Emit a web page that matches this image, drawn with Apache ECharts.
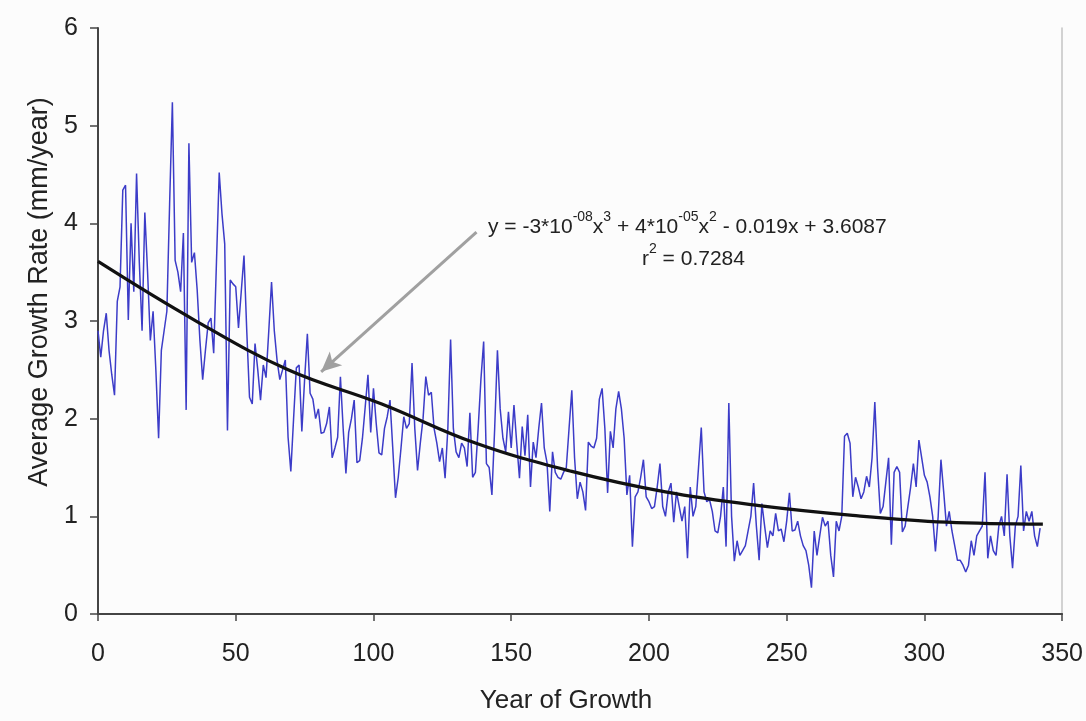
<!DOCTYPE html>
<html lang="en">
	<head>
		<meta charset="UTF-8">
		<title>Average Growth Rate</title>
		<script src="https://cdn.jsdelivr.net/npm/echarts@6/dist/echarts.min.js"></script>
		<style>
			html, body { margin: 0; padding: 0; background: #fcfcfc; }
			#growthChart { width: 1086px; height: 721px; }
		</style>
	</head>
	<body>
		<div id="growthChart"></div>

		<script>
			// 연도별 평균 성장률 (index = year of growth)
			const growthRate = [
				2.9, 2.63, 2.9, 3.08, 2.7, 2.45, 2.24, 3.2, 3.35, 4.34,
				4.39, 3.01, 4.0, 3.3, 4.51, 3.6, 2.9, 4.11, 3.5, 2.8,
				3.1, 2.5, 1.8, 2.7, 2.9, 3.1, 4.2, 5.24, 3.62, 3.5,
				3.3, 3.9, 2.09, 4.82, 3.6, 3.7, 3.32, 2.8, 2.4, 2.7,
				2.98, 3.03, 2.67, 3.6, 4.52, 4.1, 3.79, 1.88, 3.42, 3.38,
				3.35, 2.93, 3.3, 3.67, 2.9, 2.22, 2.15, 2.77, 2.5, 2.19,
				2.55, 2.42, 2.9, 3.4, 2.9, 2.6, 2.4, 2.5, 2.6, 1.81,
				1.46, 2.0, 2.52, 2.55, 1.87, 2.4, 2.87, 2.26, 2.2, 2.0,
				2.1, 1.85, 1.86, 1.95, 2.12, 1.6, 1.7, 1.81, 2.43, 1.9,
				1.44, 1.86, 2.0, 2.19, 1.55, 1.57, 1.8, 2.12, 2.45, 1.86,
				2.31, 1.95, 1.65, 1.63, 1.9, 2.02, 2.19, 1.7, 1.19, 1.4,
				1.7, 2.02, 1.9, 1.95, 2.57, 1.9, 1.47, 1.75, 2.0, 2.43,
				2.24, 2.27, 1.9, 1.75, 1.56, 1.7, 1.39, 1.9, 2.81, 1.9,
				1.66, 1.6, 1.75, 1.7, 1.51, 2.06, 1.4, 1.45, 1.9, 2.4,
				2.79, 1.54, 1.5, 1.22, 1.9, 2.7, 2.1, 1.8, 1.66, 2.07,
				1.7, 2.14, 1.75, 1.39, 1.92, 1.62, 2.04, 1.3, 1.76, 1.6,
				1.9, 2.16, 1.7, 1.55, 1.05, 1.66, 1.45, 1.4, 1.38, 1.45,
				1.5, 1.9, 2.29, 1.6, 1.18, 1.35, 1.25, 1.06, 1.76, 1.72,
				1.7, 1.8, 2.2, 2.31, 1.9, 1.24, 1.87, 1.7, 2.1, 2.28,
				2.1, 1.8, 1.22, 1.42, 0.69, 1.2, 1.25, 1.4, 1.58, 1.2,
				1.15, 1.08, 1.1, 1.3, 1.54, 1.1, 1.0, 1.25, 1.34, 0.94,
				1.25, 1.1, 0.95, 1.1, 0.57, 1.3, 1.0, 1.1, 1.5, 1.91,
				1.25, 1.15, 1.17, 1.05, 0.85, 0.83, 1.0, 1.3, 0.69, 2.16,
				1.0, 0.54, 0.75, 0.6, 0.65, 0.7, 0.85, 1.0, 1.34, 0.9,
				0.55, 1.13, 0.9, 0.68, 0.85, 0.8, 1.03, 0.85, 0.87, 0.74,
				0.95, 1.24, 0.85, 0.86, 0.95, 0.8, 0.7, 0.65, 0.5, 0.27,
				0.85, 0.6, 0.8, 0.99, 0.9, 0.95, 0.6, 0.38, 0.95, 0.85,
				1.0, 1.82, 1.85, 1.75, 1.2, 1.4, 1.3, 1.18, 1.25, 1.41,
				1.3, 1.6, 2.17, 1.5, 1.03, 1.1, 1.35, 1.6, 0.71, 1.45,
				1.51, 1.45, 0.84, 0.9, 1.1, 1.3, 1.54, 1.3, 1.78, 1.6,
				1.42, 1.35, 1.2, 1.0, 0.64, 1.0, 1.58, 1.25, 0.9, 1.05,
				0.85, 0.7, 0.55, 0.55, 0.5, 0.43, 0.5, 0.75, 0.6, 0.8,
				0.85, 0.9, 1.45, 0.57, 0.8, 0.65, 0.6, 0.9, 1.0, 0.8,
				1.43, 0.8, 0.47, 0.9, 1.0, 1.52, 0.85, 1.05, 0.95, 1.05,
				0.8, 0.69, 0.88
			];

			// 3차 추세선
			const trendYears = [0, 35, 69, 103, 137, 172, 206, 240, 274, 308, 343];
			const trendValues = [3.61, 3.01, 2.5, 2.15, 1.75, 1.46, 1.25, 1.11, 1.01, 0.94, 0.92];

			// 화살표 시작/끝 (데이터 좌표)
			const arrowFrom = [137.4, 3.91];
			const arrowTo = [81, 2.48];

			const xTicks = { min: 0, max: 350, interval: 50 };
			const yTicks = { min: 0, max: 6, interval: 1 };

			const chartDom = document.getElementById('growthChart');
			const chart = echarts.init(chartDom);

			const fontFamily = '"Liberation Sans", Arial, sans-serif';

			const option = {
				backgroundColor: '#fcfcfc',
				animation: false,
				grid: {
					left: 98,
					right: 20,
					top: 28,
					bottom: 107,
					containLabel: false
				},
				xAxis: {
					type: 'value',
					min: xTicks.min,
					max: xTicks.max,
					interval: xTicks.interval,
					name: 'Year of Growth',
					nameLocation: 'middle',
					nameGap: 74,
					nameTextStyle: {
						fontFamily: fontFamily,
						fontSize: 26,
						color: '#222',
						padding: [0, 28, 0, 0]
					},
					axisLine: { lineStyle: { color: '#444', width: 2 } },
					axisTick: { show: true, length: 7, lineStyle: { color: '#444', width: 1.5 } },
					axisLabel: {
						margin: 28,
						fontFamily: fontFamily,
						fontSize: 25,
						color: '#222'
					},
					splitLine: { show: false }
				},
				yAxis: [
					{
						type: 'value',
						min: yTicks.min,
						max: yTicks.max,
						interval: yTicks.interval,
						name: 'Average Growth Rate (mm/year)',
						nameLocation: 'middle',
						nameGap: 40,
						nameTextStyle: {
							fontFamily: fontFamily,
							fontSize: 27,
							color: '#222',
							padding: [0, 0, 0, 58]
						},
						axisLine: { show: true, lineStyle: { color: '#444', width: 2 } },
						axisTick: { show: true, length: 8, lineStyle: { color: '#444', width: 1.5 } },
						axisLabel: {
							margin: 20,
							fontFamily: fontFamily,
							fontSize: 25,
							color: '#222'
						},
						splitLine: { show: false }
					},
					{
						// 오른쪽 테두리
						type: 'value',
						min: yTicks.min,
						max: yTicks.max,
						position: 'right',
						axisLine: { show: true, lineStyle: { color: '#c4c4c4', width: 1.5 } },
						axisTick: { show: false },
						axisLabel: { show: false },
						splitLine: { show: false }
					}
				],
				series: [
					{
						name: 'Growth rate',
						type: 'line',
						data: growthRate.map((v, i) => [i, v]),
						showSymbol: false,
						lineStyle: { color: '#3c3cc8', width: 1.5 },
						z: 2,
						markLine: {
							silent: true,
							symbol: ['none', 'arrow'],
							symbolSize: [14, 20],
							lineStyle: { color: '#a0a0a0', width: 3, type: 'solid' },
							label: { show: false },
							data: [[
								{ coord: arrowFrom },
								{ coord: arrowTo }
							]]
						}
					},
					{
						name: 'Trend',
						type: 'line',
						data: trendYears.map((x, i) => [x, trendValues[i]]),
						smooth: 0.4,
						showSymbol: false,
						lineStyle: { color: '#111', width: 3.2 },
						z: 3
					}
				],
				graphic: [
					{
						type: 'text',
						left: 488,
						top: 210,
						style: {
							text: '{t|y = -3*10}{s|-08}{t|x}{s|3}{t| + 4*10}{s|-05}{t|x}{s|2}{t| - 0.019x + 3.6087}',
							rich: {
								t: { fontFamily: fontFamily, fontSize: 21, lineHeight: 28, fill: '#222', verticalAlign: 'bottom' },
								s: { fontFamily: fontFamily, fontSize: 14, lineHeight: 28, fill: '#222', verticalAlign: 'top' }
							}
						}
					},
					{
						type: 'text',
						left: 642,
						top: 242,
						style: {
							text: '{t|r}{s|2}{t| = 0.7284}',
							rich: {
								t: { fontFamily: fontFamily, fontSize: 21, lineHeight: 28, fill: '#222', verticalAlign: 'bottom' },
								s: { fontFamily: fontFamily, fontSize: 14, lineHeight: 28, fill: '#222', verticalAlign: 'top' }
							}
						}
					}
				]
			};

			chart.setOption(option);
		</script>
	</body>
</html>
